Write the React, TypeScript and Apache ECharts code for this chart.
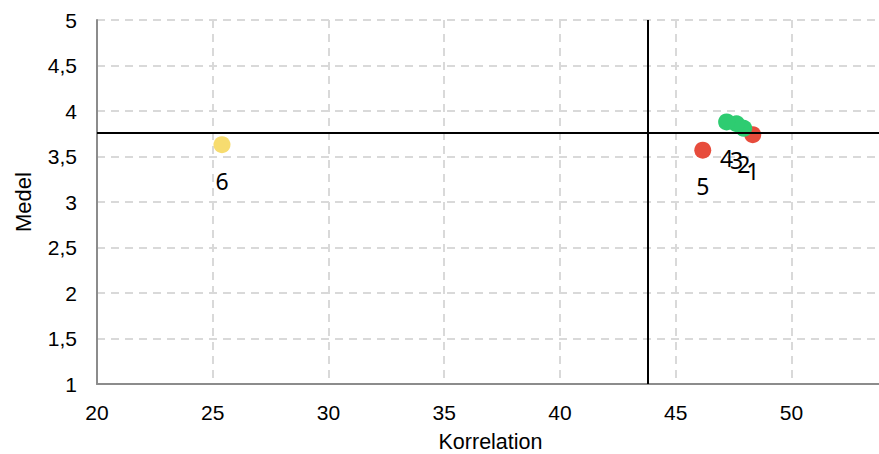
import React, { useEffect, useRef } from "react";
import * as echarts from "echarts";

const ids = ["1", "2", "3", "4", "5", "6"];
const korrelation = [48.33, 47.94, 47.63, 47.2, 46.17, 25.4];
const medel = [3.74, 3.81, 3.86, 3.88, 3.57, 3.63];
const status = ["red", "green", "green", "green", "red", "yellow"];
const xRefLine = 43.8;
const yRefLine = 3.76;

const statusColors: Record<string, string> = {
  red: "#E74C3C",
  green: "#2ECC71",
  yellow: "#F7DC6F",
};

export default function App() {
  const ref = useRef<HTMLDivElement>(null);
  useEffect(() => {
    if (!ref.current) return;
    const chart = echarts.init(ref.current, null, { renderer: "svg" });
    const fmt = (v: number) => String(v).replace(".", ",");
    chart.setOption({
      animation: false,
      grid: { left: 97, top: 20, bottom: 70, right: -5, containLabel: false, outerBoundsMode: "none" },
      xAxis: {
        type: "value",
        min: 20,
        max: 54,
        interval: 5,
        name: "Korrelation",
        nameLocation: "middle",
        nameGap: 47,
        nameTextStyle: { fontFamily: "Liberation Sans", fontSize: 21.5, color: "#000", lineHeight: 22 },
        axisLine: { show: true, lineStyle: { color: "#8c8c8c", width: 2 } },
        axisTick: { show: false },
        axisLabel: {
          fontFamily: "Liberation Sans",
          fontSize: 21,
          color: "#000",
          margin: 18,
          showMaxLabel: false,
          formatter: fmt,
        },
        splitLine: { show: true, lineStyle: { color: "#d9d9d9", width: 2, type: [8, 6] } },
      },
      yAxis: {
        type: "value",
        min: 1,
        max: 5,
        interval: 0.5,
        name: "Medel",
        nameLocation: "middle",
        nameGap: 63,
        nameTextStyle: { fontFamily: "Liberation Sans", fontSize: 22, color: "#000" },
        axisLine: { show: true, lineStyle: { color: "#8c8c8c", width: 2 } },
        axisTick: { show: false },
        axisLabel: {
          fontFamily: "Liberation Sans",
          fontSize: 21,
          color: "#000",
          margin: 20,
          formatter: fmt,
        },
        splitLine: { show: true, lineStyle: { color: "#d9d9d9", width: 2, type: [8, 6] } },
      },
      series: [
        {
          type: "scatter",
          data: [],
          z: 1,
          markLine: {
            silent: true,
            symbol: "none",
            label: { show: false },
            lineStyle: { color: "#000", width: 2, type: "solid" },
            data: [{ xAxis: xRefLine }, { yAxis: yRefLine }],
          },
        },
        {
          type: "scatter",
          z: 3,
          symbolSize: 17,
          data: ids.map((id, i) => ({
            name: id,
            value: [korrelation[i], medel[i]],
            itemStyle: { color: statusColors[status[i]], opacity: 1 },
          })),
          label: {
            show: true,
            position: "bottom",
            distance: 16,
            formatter: (p: any) => p.name,
            fontFamily: "Noto Sans",
            fontSize: 23,
            color: "#000",
          },
        },
      ],
    });
    return () => chart.dispose();
  }, []);
  return <div ref={ref} style={{ width: 879, height: 454, position: "absolute", left: 0, top: 0 }} />;
}
